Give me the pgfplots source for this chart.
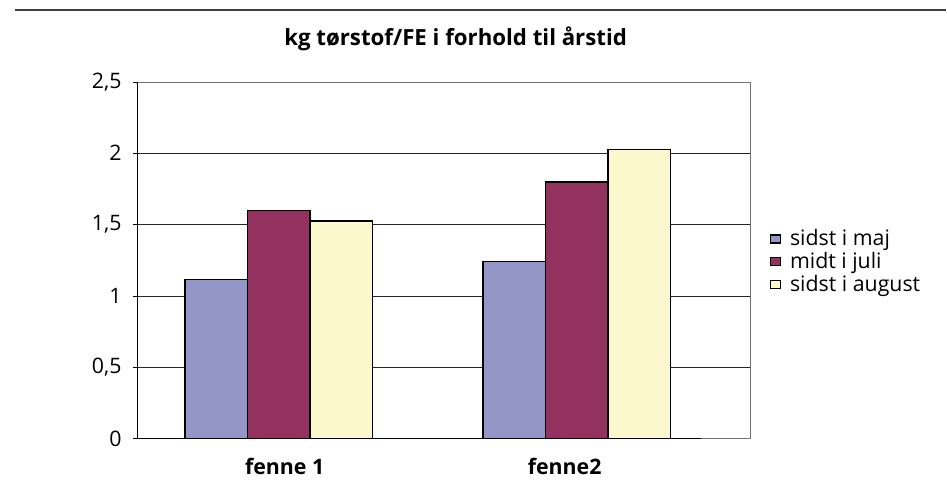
\documentclass[border=0pt]{standalone}
\usepackage{pgfplots}
\pgfplotsset{compat=1.18}
\usepackage{fontspec}
\setmainfont{Open Sans}
\definecolor{cblue}{HTML}{9496C8}
\definecolor{cpurple}{HTML}{93325F}
\definecolor{cyellow}{HTML}{FAF8CC}
\begin{document}
\begin{tikzpicture}[x=0.75pt,y=0.75pt]
\path (0,0) rectangle (947,488);
\draw[line width=1.1pt,black!75] (15,478) -- (947,478);
\node[font=\fontsize{16.7}{18}\selectfont\bfseries, anchor=base] at (456,442) {kg tørstof/FE i forhold til årstid};
\begin{axis}[
  at={(103.5pt,36.75pt)}, anchor=south west,
  scale only axis, width=459.75pt, height=267.75pt,
  ybar=0pt, bar width=46.9pt,
  xmin=-0.473, xmax=1.584,
  ymin=0, ymax=2.5,
  ytick={0,0.5,1,1.5,2,2.5},
  yticklabels={0,{0,5},1,{1,5},2,{2,5}},
  xtick={0.02,0.96},
  xticklabels={fenne 1,fenne2},
  x tick label style={font=\fontsize{16}{18}\selectfont\bfseries, yshift=-7pt},
  y tick label style={font=\fontsize{16}{18}\selectfont, xshift=-5pt},
  xtick style={draw=none},
  ytick pos=left,
  ytick style={black, thin},
  tick align=outside, major tick length=3.75pt,
  ymajorgrids, grid style={black!85, line width=0.5pt},
  axis line style={black!55, line width=0.6pt},
  legend style={at={(1.031,0.496)}, anchor=west, draw=none, fill=none,
    inner sep=0pt,
    font=\fontsize{16}{18}\selectfont, row sep=-0.5pt,
    legend cell align=left},
  legend image code/.code={\draw[#1, line width=1pt] (0pt,-3pt) rectangle (7.5pt,3pt);
    \path[draw=none,fill=none] (0pt,0pt) -- (12.8pt,0pt);},
  clip=false,
]
\addplot[fill=cblue, draw=black, line width=1.1pt] coordinates {(0,1.114) (1,1.240)};
\addplot[fill=cpurple, draw=black, line width=1.1pt] coordinates {(0,1.598) (1,1.799)};
\addplot[fill=cyellow, draw=black, line width=1.1pt] coordinates {(0,1.526) (1,2.025)};
\legend{sidst i maj, midt i juli, sidst i august}
\draw[black, line width=0.7pt] (rel axis cs:0,0) -- (rel axis cs:0,1);
\draw[black, line width=0.9pt] (rel axis cs:0,0) -- (rel axis cs:0.92,0);
\end{axis}
\end{tikzpicture}
\end{document}
